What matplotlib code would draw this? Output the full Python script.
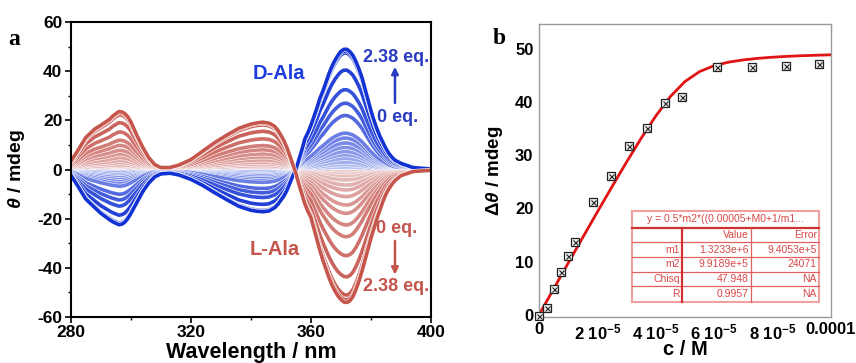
import numpy as np
import matplotlib
matplotlib.use("Agg")
import matplotlib.pyplot as plt
import matplotlib.patheffects as pe
from matplotlib.colors import to_rgb
from matplotlib.patches import Rectangle

plt.rcParams['font.family'] = ['Liberation Sans', 'DejaVu Sans']
plt.rcParams['font.weight'] = 'bold'
plt.rcParams['mathtext.fontset'] = 'custom'
plt.rcParams['mathtext.it'] = 'Liberation Sans:italic'
plt.rcParams['mathtext.rm'] = 'Liberation Sans:bold'
plt.rcParams['mathtext.default'] = 'regular'
plt.rcParams['axes.unicode_minus'] = False

# ---------------- Panel a data ----------------
wavelength = [280, 282, 285, 288, 290, 293, 294, 296, 297, 298, 299, 300, 302, 304, 306, 308, 310,
              313, 316, 320, 324, 328, 332, 336, 340, 342, 344, 346, 347, 348, 349, 350, 351, 352,
              353, 354, 355, 356, 357, 358, 359, 360, 361, 362, 363, 364, 365, 366, 367, 368,
              369, 370, 371, 372, 373, 374, 375, 376, 377, 378, 379, 380, 381, 382, 383, 384,
              385, 386, 387, 388, 390, 394, 400]
# D-Ala spectrum at 2.38 eq. (mdeg)
theta_D_max = [-2.2, -6, -12, -15.5, -17.8, -20.5, -21.3, -22.5, -22.3, -21.5, -20, -18, -13.5, -9,
               -5.5, -3, -1.8,
               -1.5, -2.2, -4, -6.5, -9.5, -12.3, -15, -16.6, -17, -17.2, -16.9, -16.2, -15.5, -14.2,
               -12.5, -10.8, -8.5,
               -5.5, -2.5, 0, 4, 8, 12.5, 15, 18, 21.5, 25, 29, 32, 35.5, 39, 42, 44.5,
               46.5, 48.2, 49, 49, 48, 46.5, 44, 41, 37.5, 33, 28.5, 24, 20, 16.5, 13.5, 11,
               8.5, 6.5, 5, 3.8, 2.5, 0.8, 0.2]
# L-Ala spectrum at 2.38 eq. (mdeg)
theta_L_max = [3.3, 7, 13, 16.5, 18, 20.5, 21.8, 23.6, 23.5, 22.8, 21.5, 19.5, 14, 9,
               4.8, 2, 0.8,
               0.8, 1.8, 4, 7.5, 11, 14, 16.8, 18.5, 19, 19.3, 18.9, 18.3, 17.5, 16,
               14, 11.8, 9,
               5.5, 2, -1.5, -6, -10, -14, -17, -19.5, -24, -28.5, -33, -37, -40.5, -44, -47, -49.5,
               -51.5, -53, -54, -54.2, -53.5, -51.8, -49, -45.5, -41.5, -37, -32.5, -28, -24, -20,
               -16.5, -13,
               -10, -7.8, -6, -4.5, -2.5, -0.8, -0.3]
# band intensity at ~372 nm for each titration step
D_levels = [0.3, 1, 2, 3, 4.5, 6, 7.3, 9, 10.8, 12.8, 14.8, 22, 27, 32.5, 40.5, 47.5, 48.3, 49]
L_levels = [0.3, 1, 2, 3, 4.2, 6.3, 8.3, 11, 14.4, 17.8, 22.5, 27.3, 35, 43.6, 51, 53, 54]

# ---------------- Panel b data ----------------
conc = [0, 0.26e-5, 0.51e-5, 0.75e-5, 0.98e-5, 1.24e-5, 1.86e-5, 2.48e-5, 3.07e-5,
        3.70e-5, 4.30e-5, 4.90e-5, 6.08e-5, 7.28e-5, 8.46e-5, 9.60e-5]
dtheta = [-0.2, 1.2, 4.9, 8.1, 11.1, 13.6, 21.3, 26.1, 31.8, 35.1, 39.9, 40.9, 46.6, 46.6, 46.7, 47.1]
fit_c = [0, 0.5e-5, 1e-5, 1.5e-5, 2e-5, 2.5e-5, 3e-5, 3.5e-5, 4e-5, 4.5e-5, 5e-5, 5.5e-5,
         6e-5, 6.5e-5, 7e-5, 7.5e-5, 8e-5, 8.5e-5, 9e-5, 9.5e-5, 10e-5]
fit_y = [0, 4.88, 9.74, 14.57, 19.36, 24.09, 28.73, 33.20, 37.38, 41.04, 43.86, 45.72,
         46.83, 47.50, 47.92, 48.21, 48.42, 48.58, 48.70, 48.79, 48.87]
table_title = "y = 0.5*m2*((0.00005+M0+1/m1..."
table_rows = [["", "Value", "Error"],
              ["m1", "1.3233e+6", "9.4053e+5"],
              ["m2", "9.9189e+5", "24071"],
              ["Chisq", "47.948", "NA"],
              ["R", "0.9957", "NA"]]
xtick_vals = [0, 2e-5, 4e-5, 6e-5, 8e-5, 1e-4]
xtick_labels = ["0", "2 10$^{-5}$", "4 10$^{-5}$", "6 10$^{-5}$", "8 10$^{-5}$", "0.0001"]

fig = plt.figure(figsize=(8.56, 3.63), dpi=100)
axa = fig.add_axes([0.0826, 0.1275, 0.4209, 0.811])
axb = fig.add_axes([0.6297, 0.1275, 0.3411, 0.8055])

blue = np.array(to_rgb("#1232d4"))
red = np.array(to_rgb("#c6554c"))
white = np.array([0.97, 0.97, 0.99])

wl = np.array(wavelength)
Dmax = np.array(theta_D_max)
Lmax = np.array(theta_L_max)

def mix(c, t):
    return tuple(white + (c - white) * t)

entries = []
for lv in D_levels:
    entries.append((lv / max(D_levels), 'D'))
for lv in L_levels:
    entries.append((lv / max(L_levels), 'L'))
entries.sort(key=lambda e: e[0])
for f, kind in entries:
    t = 0.15 + 0.85 * f ** 0.5
    if kind == 'D':
        y = Dmax * f
        c = mix(blue, t)
    else:
        y = Lmax * f
        c = mix(red, t)
    axa.plot(wl, y, color=c, lw=2.6, solid_capstyle='round', solid_joinstyle='round',
             path_effects=[pe.Stroke(linewidth=3.4, foreground='white'), pe.Normal()])

axa.set_xlim(280, 400)
axa.set_ylim(-60, 60)
axa.set_xticks([280, 320, 360, 400])
axa.set_xticks([300, 340, 380], minor=True)
axa.set_yticks([-60, -40, -20, 0, 20, 40, 60])
axa.set_yticks([-50, -30, -10, 10, 30, 50], minor=True)
axa.tick_params(which='major', direction='out', length=4, width=1.2, labelsize=12.5, pad=2)
axa.tick_params(which='minor', direction='out', length=2.5, width=1.0)
for s in axa.spines.values():
    s.set_linewidth(1.5)
axa.set_xlabel("Wavelength / nm", fontsize=15.5, fontweight='bold')
axa.xaxis.set_label_coords(0.5, -0.085)
axa.set_ylabel(r"$\mathit{\theta}$ / mdeg", fontsize=14, fontweight='bold')
axa.yaxis.set_label_coords(-0.122, 0.5)

tb = "#2a3cc0"
tr = "#c4554c"
axa.text(349.2, 39.3, "D-Ala", color="#1e3ce0", fontsize=14.5, fontweight='bold', ha='center', va='center')
axa.text(348.1, -32.7, "L-Ala", color=tr, fontsize=14.5, fontweight='bold', ha='center', va='center')
axa.text(388.3, 45.8, "2.38 eq.", color=tb, fontsize=13, fontweight='bold', ha='center', va='center', clip_on=False)
axa.text(388.8, 21.3, "0 eq.", color=tb, fontsize=13, fontweight='bold', ha='center', va='center', clip_on=False)
axa.text(388.6, -23.9, "0 eq.", color=tr, fontsize=13, fontweight='bold', ha='center', va='center', clip_on=False)
axa.text(388.3, -47.7, "2.38 eq.", color=tr, fontsize=13, fontweight='bold', ha='center', va='center', clip_on=False)
axa.annotate("", xy=(388.0, 43), xytext=(388.0, 26),
             arrowprops=dict(arrowstyle='-|>', color=tb, lw=1.8, mutation_scale=10))
axa.annotate("", xy=(388.0, -44), xytext=(388.0, -28),
             arrowprops=dict(arrowstyle='-|>', color=tr, lw=1.8, mutation_scale=10))

fig.text(0.0169, 0.89, "a", fontsize=17, fontweight='bold', family='Liberation Serif', ha='center', va='center')
fig.text(0.583, 0.893, "b", fontsize=17, fontweight='bold', family='Liberation Serif', ha='center', va='center')

# ---------------- Panel b ----------------
axb.plot(fit_c, fit_y, color="#e01414", lw=2.0, zorder=2)
axb.plot(conc, dtheta, ls='none', marker='s', ms=5.8, mfc='#f2f2f2', mec='#222222', mew=0.9,
         clip_on=False, zorder=3)
axb.plot(conc, dtheta, ls='none', marker='x', ms=3.6, mec='#222222', mew=0.8,
         clip_on=False, zorder=4)
axb.set_xlim(0, 1e-4)
axb.set_ylim(-0.35, 54.6)
axb.set_yticks([0, 10, 20, 30, 40, 50])
axb.set_xticks(xtick_vals)
axb.set_xticklabels(xtick_labels)
axb.tick_params(length=0, labelsize=12, pad=4)
for s in axb.spines.values():
    s.set_linewidth(1.0)
    s.set_color('#9a9a9a')
axb.set_xlabel("c / M", fontsize=14.5, fontweight='bold')
axb.xaxis.set_label_coords(0.5, -0.078)
axb.set_ylabel(r"$\mathit{\Delta\theta}$ / mdeg", fontsize=13.5, fontweight='bold')
axb.yaxis.set_label_coords(-0.116, 0.5)

# fit table
xs = [0.3195, 0.4908, 0.7250, 0.9589]
ys = [0.3625, 0.3044, 0.2555, 0.2042, 0.1539, 0.1040, 0.0492]
lc = "#e06060"
tc = "#d84848"
tr_ = axb.transAxes
axb.add_patch(Rectangle((xs[0], ys[-1]), xs[-1] - xs[0], ys[0] - ys[-1], transform=tr_,
                        facecolor='white', edgecolor='#f0a0a0', lw=1.5, zorder=5))
for i, yy in enumerate(ys[1:-1]):
    lw = 1.6 if i == 0 else 0.9
    axb.plot([xs[0], xs[-1]], [yy, yy], transform=tr_, color="#d03030" if i == 0 else lc, lw=lw, zorder=6)
axb.plot([xs[1], xs[1]], [ys[1], ys[-1]], transform=tr_, color="#d03030", lw=1.6, zorder=6)
axb.plot([xs[2], xs[2]], [ys[1], ys[-1]], transform=tr_, color=lc, lw=0.9, zorder=6)
axb.text((xs[0] + xs[-1]) / 2, (ys[0] + ys[1]) / 2, table_title, transform=tr_, color=tc,
         fontsize=7.5, fontweight='normal', ha='center', va='center', zorder=7)
for r, row in enumerate(table_rows):
    yc = (ys[r + 1] + ys[r + 2]) / 2
    for c, txt in enumerate(row):
        axb.text(xs[c + 1] - 0.008, yc, txt, transform=tr_, color=tc, fontsize=7.5,
                 fontweight='normal', ha='right', va='center', zorder=7)

fig.savefig("out.png", dpi=100)
